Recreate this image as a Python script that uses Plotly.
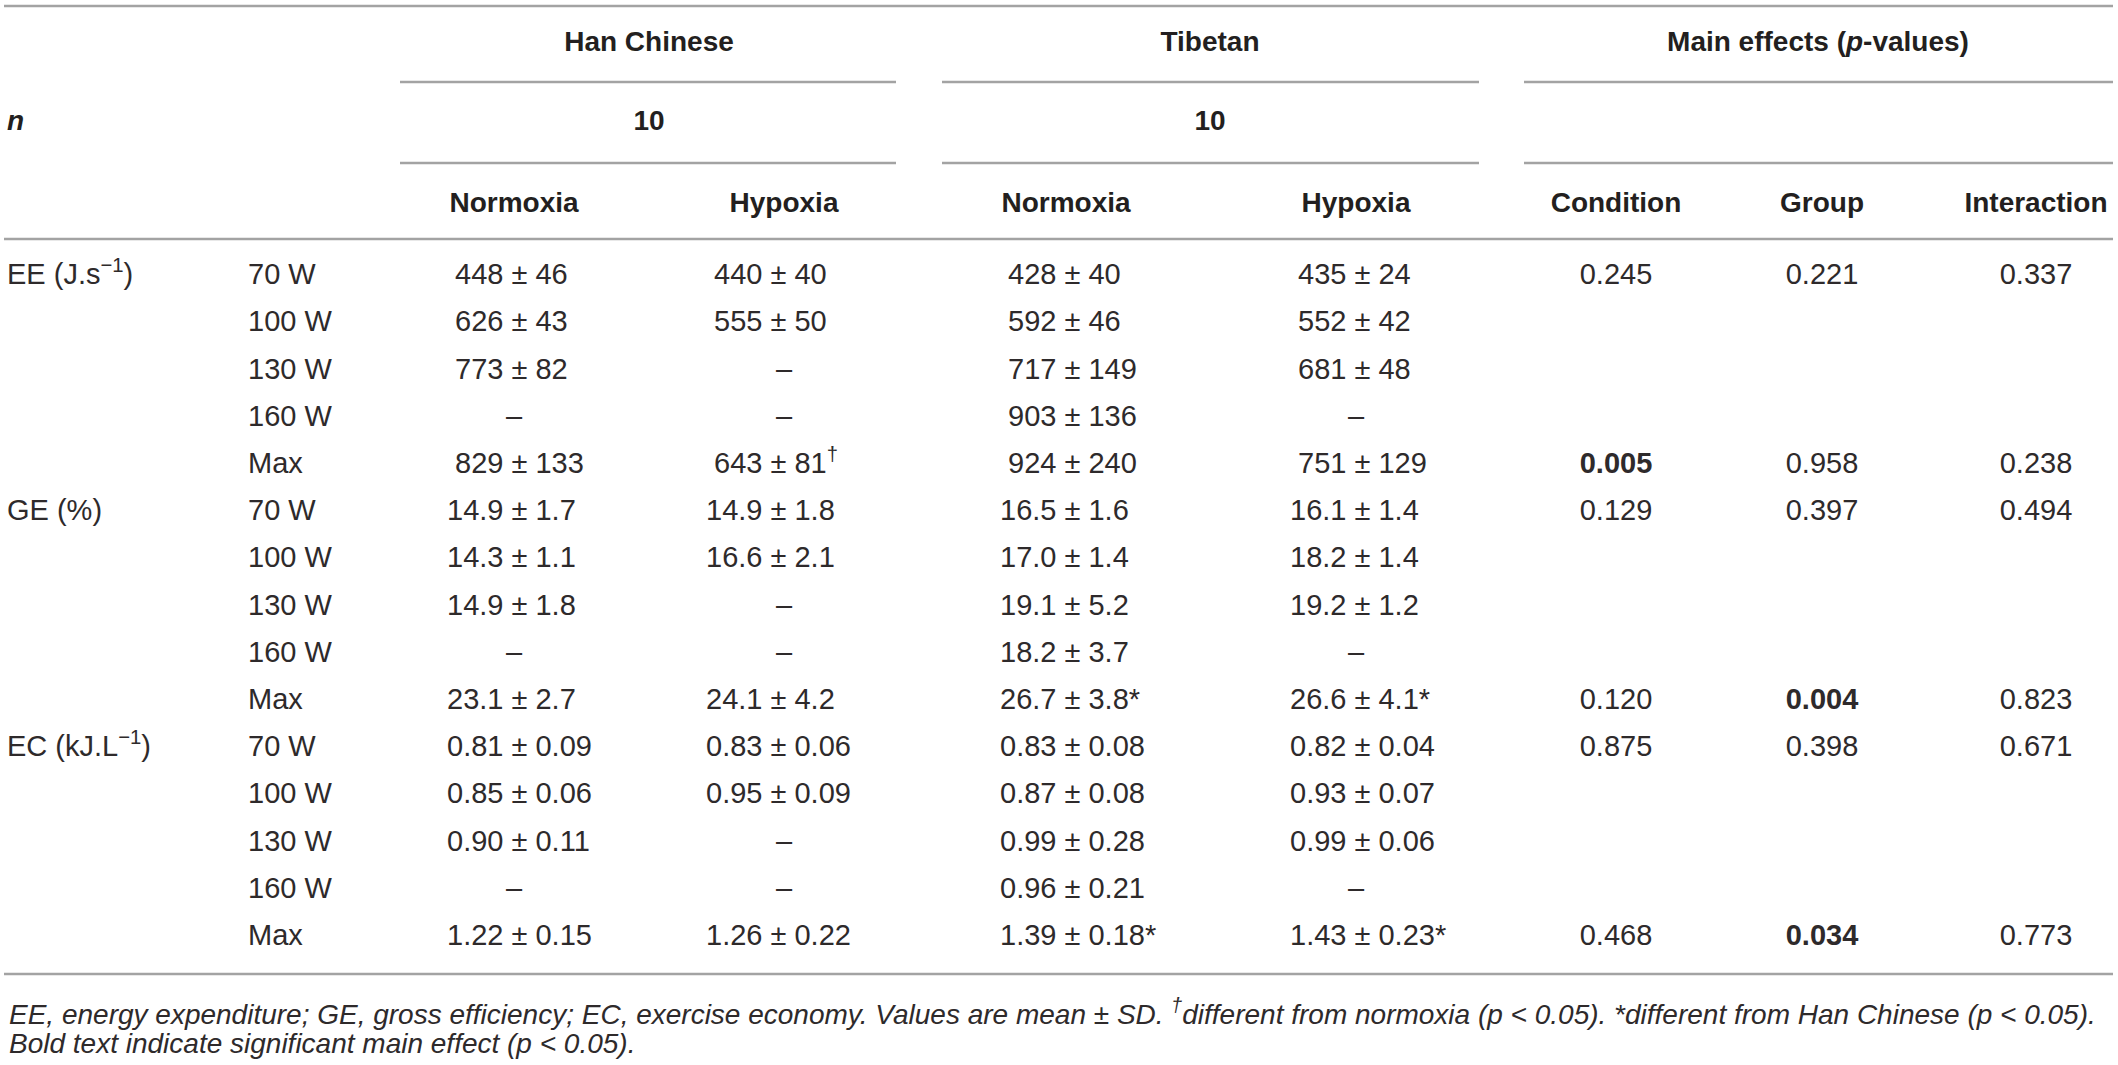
import plotly.graph_objects as go

# ---- table content ----
measures = ["EE (J.s<sup>−1</sup>)", "GE (%)", "EC (kJ.L<sup>−1</sup>)"]
workloads = ["70 W", "100 W", "130 W", "160 W", "Max"]

groups = ["Han Chinese", "Tibetan", "Main effects (<i>p</i>-values)"]
group_n = ["10", "10"]
sub_headers = ["Normoxia", "Hypoxia", "Normoxia", "Hypoxia", "Condition", "Group", "Interaction"]

# mean ± SD per row (EE x5, GE x5, EC x5); None = not measured
han_normoxia = ["448 ± 46", "626 ± 43", "773 ± 82", None, "829 ± 133",
                "14.9 ± 1.7", "14.3 ± 1.1", "14.9 ± 1.8", None, "23.1 ± 2.7",
                "0.81 ± 0.09", "0.85 ± 0.06", "0.90 ± 0.11", None, "1.22 ± 0.15"]
han_hypoxia = ["440 ± 40", "555 ± 50", None, None, "643 ± 81†",
               "14.9 ± 1.8", "16.6 ± 2.1", None, None, "24.1 ± 4.2",
               "0.83 ± 0.06", "0.95 ± 0.09", None, None, "1.26 ± 0.22"]
tib_normoxia = ["428 ± 40", "592 ± 46", "717 ± 149", "903 ± 136", "924 ± 240",
                "16.5 ± 1.6", "17.0 ± 1.4", "19.1 ± 5.2", "18.2 ± 3.7", "26.7 ± 3.8*",
                "0.83 ± 0.08", "0.87 ± 0.08", "0.99 ± 0.28", "0.96 ± 0.21", "1.39 ± 0.18*"]
tib_hypoxia = ["435 ± 24", "552 ± 42", "681 ± 48", None, "751 ± 129",
               "16.1 ± 1.4", "18.2 ± 1.4", "19.2 ± 1.2", None, "26.6 ± 4.1*",
               "0.82 ± 0.04", "0.93 ± 0.07", "0.99 ± 0.06", None, "1.43 ± 0.23*"]

# p-values, given on the 70 W and Max rows of each measure
p_rows = ["70 W", "Max"]
p_condition = ["0.245", "0.005", "0.129", "0.120", "0.875", "0.468"]
p_group = ["0.221", "0.958", "0.397", "0.004", "0.398", "0.034"]
p_interaction = ["0.337", "0.238", "0.494", "0.823", "0.671", "0.773"]
alpha = 0.05

footnotes = [
    "EE, energy expenditure; GE, gross efficiency; EC, exercise economy. Values are mean ± SD. "
    "<sup>†</sup>different from normoxia (p &lt; 0.05). *different from Han Chinese (p &lt; 0.05).",
    "Bold text indicate significant main effect (p &lt; 0.05).",
]

# ---- layout constants (pixels) ----
W, H = 2118, 1065
FONT = "Liberation Sans, Arial, Helvetica, sans-serif"
INK = "#231f20"
BODY_INK = "#2e2a2b"
RULE = "#a3a3a3"
FS_HEAD = 28
FS_BODY = 29

x_label, x_load = 7, 248
col_center = [514, 784, 1066, 1356]
col_pm = [520, 779, 1073, 1363]
p_center = [1616, 1822, 2036]
group_center = [649, 1210, 1818]
group_span = [(400, 896), (942, 1479), (1524, 2113)]
table_left, table_right = 4, 2113
y_top, y_group, y_rule1, y_n, y_rule2, y_sub, y_rule3 = 6, 44, 82, 123, 163, 205, 239
row0, row_step = 277, 47.2
y_bottom, y_foot = 974, [1012, 1043]

n_rows = len(measures) * len(workloads)
row_y = [row0 + i * row_step for i in range(n_rows)]

fig = go.Figure()


def add_text(xs, ys, texts, pos="middle center", bold=False, size=FS_BODY, style="normal"):
    fig.add_trace(go.Scatter(
        x=xs, y=ys, text=texts, mode="text", textposition=pos,
        textfont=dict(family=FONT, size=size, color=INK if bold else BODY_INK,
                      weight="bold" if bold else "normal", style=style),
        hoverinfo="skip", showlegend=False))


# header
add_text(group_center, [y_group] * 3, groups, bold=True, size=FS_HEAD)
add_text([x_label], [y_n], ["n"], pos="middle right", bold=True, size=FS_HEAD, style="italic")
add_text(group_center[:2], [y_n] * 2, group_n, bold=True, size=FS_HEAD)
add_text(col_center + p_center, [y_sub] * 7, sub_headers, bold=True, size=FS_HEAD)

# row labels
add_text([x_label] * len(measures), [row_y[i * len(workloads)] for i in range(len(measures))],
         measures, pos="middle right")
add_text([x_load] * n_rows, row_y, workloads * len(measures), pos="middle right")

# mean ± SD columns, aligned on the ± sign
half_pm = 0.292 * FS_BODY
space = 0.278 * FS_BODY
for values, cx, pm in zip([han_normoxia, han_hypoxia, tib_normoxia, tib_hypoxia], col_center, col_pm):
    mx, my, mt, sx, sy, st, dx, dy = [], [], [], [], [], [], [], []
    for v, y in zip(values, row_y):
        if v is None:
            dx.append(cx)
            dy.append(y)
            continue
        mean, sd = v.split(" ± ")
        sd = sd.replace("†", "<sup>†</sup>")
        mx.append(pm - half_pm - space)
        my.append(y)
        mt.append(mean)
        sx.append(pm - half_pm)
        sy.append(y)
        st.append("± " + sd)
    add_text(mx, my, mt, pos="middle left")
    add_text(sx, sy, st, pos="middle right")
    add_text(dx, dy, ["–"] * len(dx))

# p-value columns
p_y = []
for m in range(len(measures)):
    for r in p_rows:
        p_y.append(row_y[m * len(workloads) + workloads.index(r)])
for pv, cx in zip([p_condition, p_group, p_interaction], p_center):
    txt = ["<b>%s</b>" % v if float(v) < alpha else v for v in pv]
    add_text([cx] * len(pv), p_y, txt)

# footnotes
for t, y in zip(footnotes, y_foot):
    fig.add_annotation(x=x_label, y=y, xref="x", yref="y", text=t, showarrow=False,
                       xanchor="left", yanchor="middle",
                       font=dict(family=FONT, size=28, color=BODY_INK, style="italic"))

# rules
rules = [(table_left, table_right, y_top), (table_left, table_right, y_rule3),
         (table_left, table_right, y_bottom)]
for a, b in group_span:
    rules += [(a, b, y_rule1), (a, b, y_rule2)]
for a, b, y in rules:
    fig.add_shape(type="line", x0=a, x1=b, y0=y, y1=y, xref="x", yref="y",
                  line=dict(color=RULE, width=2.5))

fig.update_layout(
    width=W, height=H, margin=dict(l=0, r=0, t=0, b=0),
    paper_bgcolor="white", plot_bgcolor="white",
    xaxis=dict(range=[0, W], visible=False, fixedrange=True),
    yaxis=dict(range=[H, 0], visible=False, fixedrange=True),
)

fig.write_html("out.html", config={"displayModeBar": False},
               post_script="document.body.style.margin='0px';document.body.style.overflow='hidden';")
